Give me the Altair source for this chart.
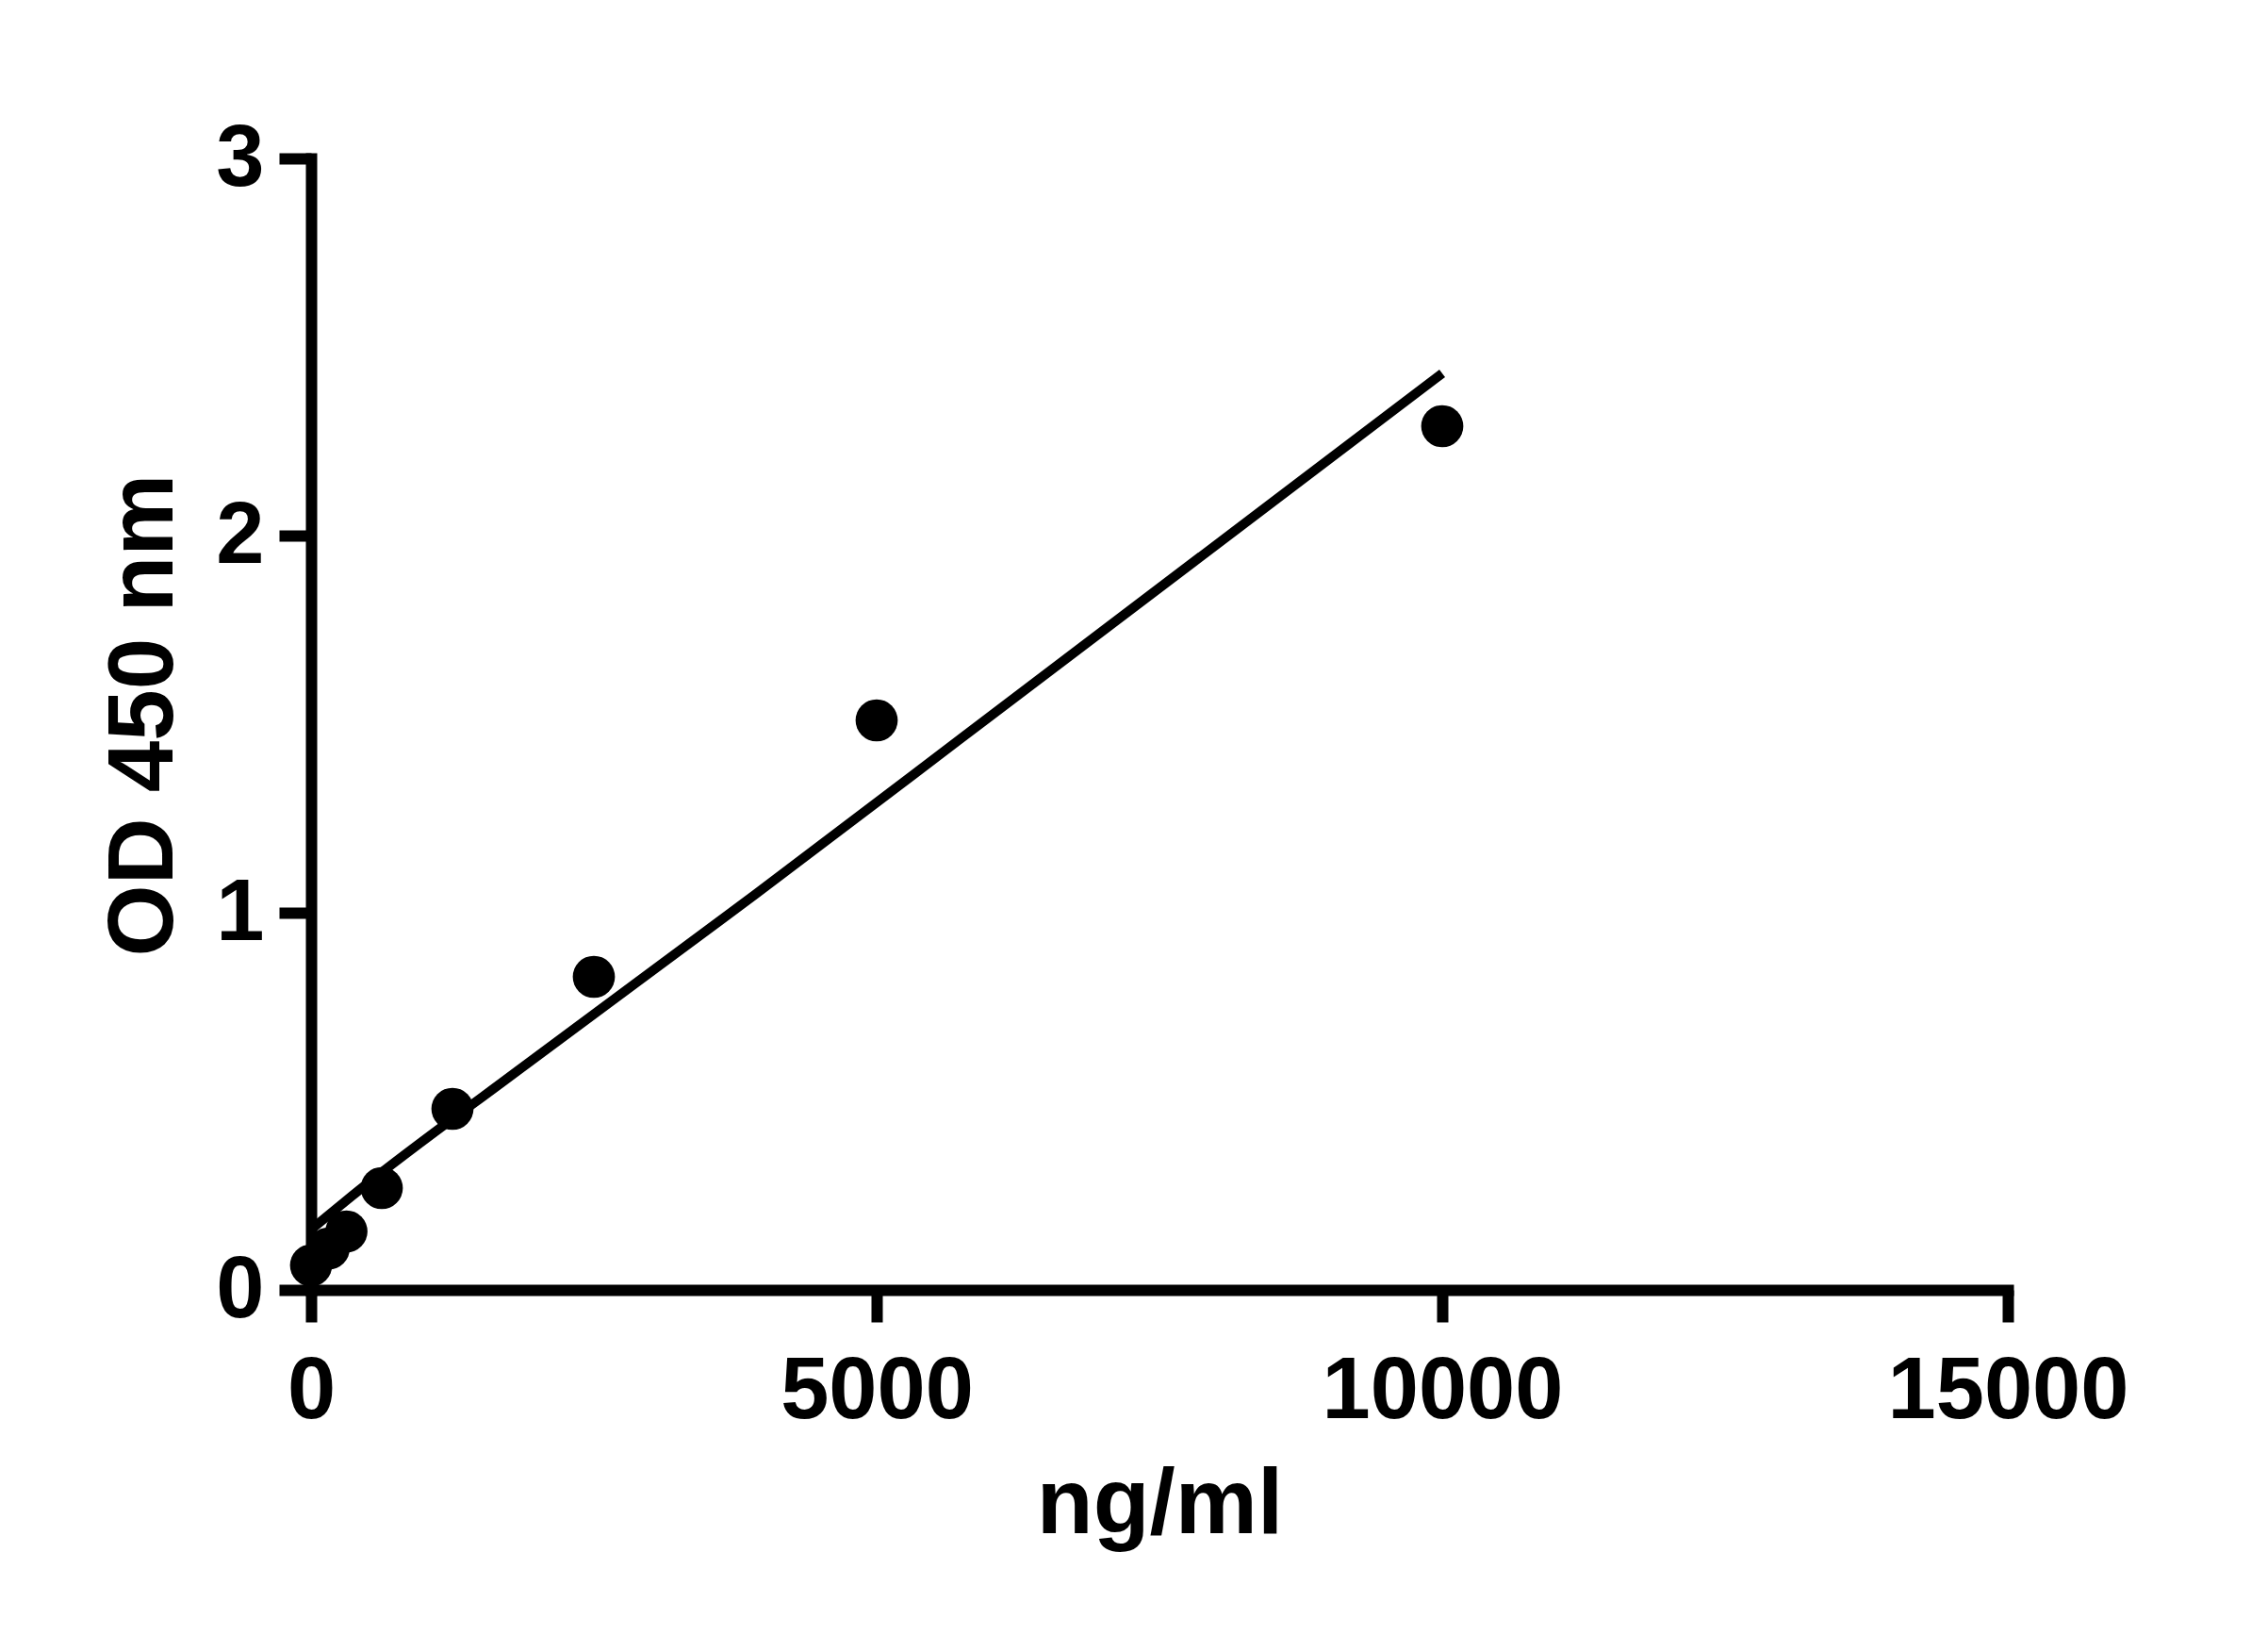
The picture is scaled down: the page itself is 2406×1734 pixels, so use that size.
import altair as alt
import pandas as pd

# standards (ng/ml) and measured OD
conc = [0, 156.25, 312.5, 625, 1250, 2500, 5000, 10000]
od = [0.065, 0.11, 0.155, 0.27, 0.48, 0.83, 1.51, 2.29]

# fitted curve
fit_x = [0, 417, 1833, 3933, 6000, 10000]
fit_y = [0.16, 0.2625, 0.5825, 1.05, 1.52, 2.43]

pts = pd.DataFrame({'conc': conc, 'od': od})
fit = pd.DataFrame({'conc': fit_x, 'od': fit_y})

x_scale = alt.Scale(domain=[0, 15000], nice=False, zero=True)
y_scale = alt.Scale(domain=[0, 3], nice=False, zero=True)

x_axis = alt.Axis(
    title='ng/ml',
    values=[0, 5000, 10000, 15000],
    format='d',
    labelPadding=28,
    titleBaseline='alphabetic',
    titleY=257,
    titleX=900,
)
y_axis = alt.Axis(
    title='OD 450 nm',
    values=[0, 1, 2, 3],
    format='d',
    labelPadding=16,
    titleAngle=270,
    titleBaseline='alphabetic',
    titleAlign='center',
    titleX=-148,
    titleY=590,
)

line = alt.Chart(fit).mark_line(
    color='black', strokeWidth=10, clip=False, interpolate='monotone'
).encode(
    x=alt.X('conc:Q', scale=x_scale, axis=x_axis),
    y=alt.Y('od:Q', scale=y_scale, axis=y_axis),
)

dots = alt.Chart(pts).mark_circle(color='black', opacity=1, size=2000).encode(
    x=alt.X('conc:Q', scale=x_scale),
    y=alt.Y('od:Q', scale=y_scale),
)

chart = alt.layer(line, dots).properties(
    width=1800,
    height=1200,
    autosize=alt.AutoSizeParams(type='none'),
    padding={'left': 322, 'top': 160, 'right': 268, 'bottom': 358},
    background='white',
).configure_view(
    stroke='transparent',
).configure_axis(
    grid=False,
    domainColor='black',
    domainWidth=12,
    domainCap='square',
    tickColor='black',
    tickWidth=12,
    tickSize=34,
    labelFont='Liberation Sans',
    labelFontWeight='bold',
    labelFontSize=92,
    labelColor='black',
    labelFlush=False,
    labelOverlap=False,
    labelLimit=2000,
    titleFont='Liberation Sans',
    titleFontWeight='bold',
    titleFontSize=98,
    titleColor='black',
    titleLimit=3000,
)

chart.save("out.html", embed_options={"renderer": "svg", "actions": False})
